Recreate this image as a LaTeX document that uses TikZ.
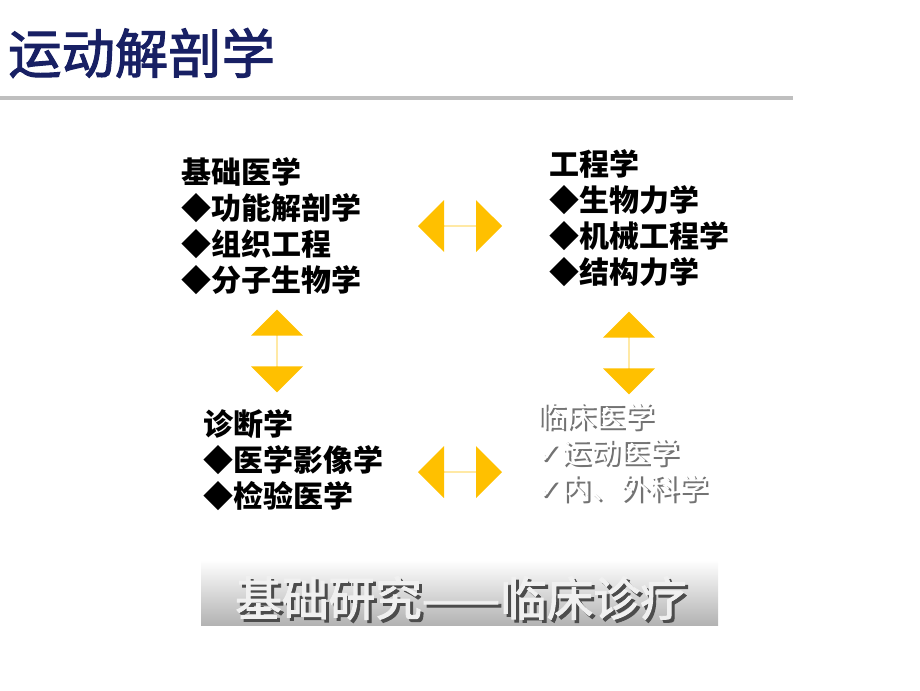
\documentclass[tikz,border=0pt]{standalone}
\usepackage{fontspec}
\newfontfamily\cjk{Noto Sans CJK SC}
\newfontfamily\cjkb{Noto Sans CJK SC}[FakeBold=2]
\newfontfamily\dvs{DejaVu Sans}
\usetikzlibrary{shapes.arrows}
\definecolor{navy}{RGB}{24,32,100}
\definecolor{gold}{RGB}{255,192,0}
\begin{document}
\begin{tikzpicture}[x=1pt,y=-1pt,
  blk/.style={anchor=north west,align=left,font=\cjk\fontsize{22.5}{27}\selectfont\bfseries,inner sep=0},
  wblk/.style={anchor=north west,align=left,font=\cjk\fontsize{22}{27}\selectfont,inner sep=0},
  darr/.style={double arrow,fill=gold,draw=none,double arrow head extend=10.5pt,minimum width=39pt,inner sep=0},
]
\useasboundingbox (0,0) rectangle (690,517.5);
\begin{scope}[scale=0.75]
\node[anchor=west,inner sep=0,text=navy,font=\cjkb\fontsize{40}{46}\selectfont] (title) at (8,53) {运动解剖学};
\draw[line width=3pt,color=black!25] (0,98) -- (793,98);

\node[blk] (a) at (181,157) {基础医学\\◆功能解剖学\\◆组织工程\\◆分子生物学};
\node[blk] (b) at (549,149) {工程学\\◆生物力学\\◆机械工程学\\◆结构力学};
\node[blk] (c) at (203,409) {诊断学\\◆医学影像学\\◆检验医学};
\node[wblk,text=black!55] at (539.5,404.5) {临床医学\\{\dvs ✓}运动医学\\{\dvs ✓}内、外科学};
\node[wblk,text=white] (d) at (537,402) {临床医学\\{\dvs ✓}运动医学\\{\dvs ✓}内、外科学};

\node[darr,minimum height=63pt] (h1) at (460,226) {};
\node[darr,minimum height=63pt] (h2) at (460,472) {};
\node[darr,minimum height=62pt,rotate=90] (v1) at (277,351) {};
\node[darr,minimum height=62pt,rotate=90] (v2) at (629,353) {};

\shade[top color=white,bottom color=black!30] (201,560) rectangle (718,625);
\node[inner sep=0,text=black!70,font=\cjkb\fontsize{35}{40}\selectfont] at (464,601) {基础研究——临床诊疗};
\node[inner sep=0,text=black!6,font=\cjkb\fontsize{35}{40}\selectfont] (ban) at (461,598) {基础研究——临床诊疗};
\end{scope}
\end{tikzpicture}
\end{document}
